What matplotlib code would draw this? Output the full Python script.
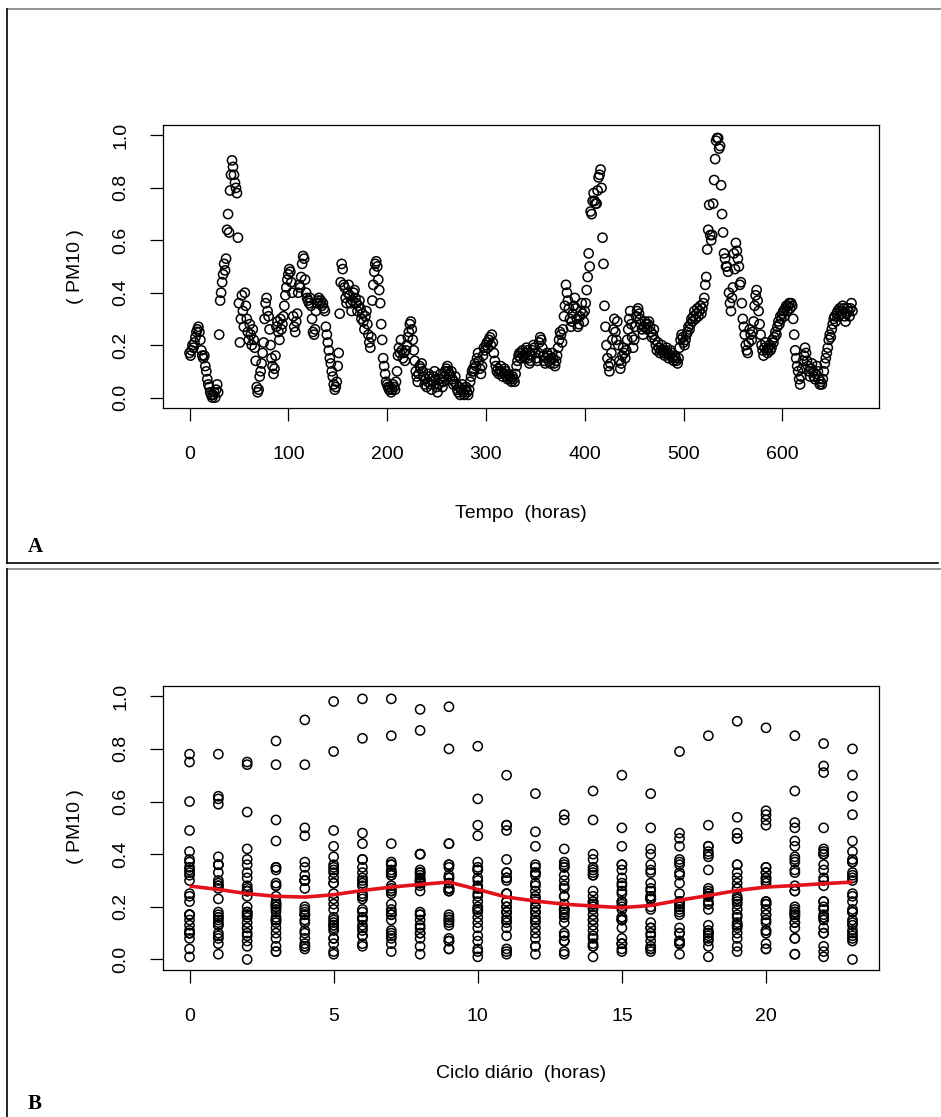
import matplotlib.pyplot as plt
import numpy as np
from matplotlib.lines import Line2D

# Hourly PM10 (normalised), one row per day, four weeks
week1 = [
    0.17, 0.16, 0.18, 0.20, 0.19, 0.21, 0.23, 0.25, 0.26, 0.27, 0.25, 0.22, 0.18, 0.16, 0.15, 0.16, 0.12, 0.10, 0.07, 0.05, 0.04, 0.02, 0.01, 0.00,
    0.01, 0.02, 0.00, 0.03, 0.05, 0.02, 0.24, 0.37, 0.40, 0.44, 0.47, 0.51, 0.485, 0.53, 0.64, 0.70, 0.63, 0.79, 0.85, 0.905, 0.88, 0.85, 0.82, 0.80,
    0.78, 0.61, 0.36, 0.21, 0.30, 0.39, 0.33, 0.27, 0.40, 0.35, 0.30, 0.25, 0.22, 0.28, 0.24, 0.20, 0.26, 0.22, 0.19, 0.14, 0.04, 0.02, 0.03, 0.08,
    0.10, 0.13, 0.17, 0.21, 0.30, 0.36, 0.38, 0.33, 0.31, 0.26, 0.20, 0.15, 0.12, 0.09, 0.11, 0.16, 0.27, 0.29, 0.25, 0.22, 0.30, 0.26, 0.28, 0.31,
    0.35, 0.39, 0.42, 0.45, 0.47, 0.49, 0.48, 0.44, 0.40, 0.31, 0.27, 0.25, 0.29, 0.32, 0.40, 0.43, 0.42, 0.46, 0.51, 0.54, 0.53, 0.45, 0.40, 0.38,
    0.37, 0.36, 0.38, 0.35, 0.30, 0.25, 0.24, 0.26, 0.33, 0.36, 0.37, 0.38, 0.36, 0.37, 0.35, 0.36, 0.34, 0.33, 0.27, 0.24, 0.21, 0.18, 0.15, 0.13,
    0.10, 0.08, 0.05, 0.03, 0.04, 0.06, 0.12, 0.17, 0.32, 0.44, 0.51, 0.49, 0.43, 0.42, 0.38, 0.36, 0.40, 0.43, 0.39, 0.36, 0.33, 0.37, 0.40, 0.41,
]
week2 = [
    0.38, 0.36, 0.33, 0.35, 0.37, 0.34, 0.30, 0.32, 0.29, 0.26, 0.31, 0.33, 0.28, 0.24, 0.21, 0.19, 0.23, 0.37, 0.43, 0.48, 0.51, 0.52, 0.50, 0.45,
    0.41, 0.36, 0.28, 0.22, 0.15, 0.12, 0.09, 0.06, 0.05, 0.04, 0.03, 0.04, 0.02, 0.03, 0.05, 0.04, 0.03, 0.06, 0.10, 0.16, 0.19, 0.17, 0.22, 0.18,
    0.15, 0.17, 0.14, 0.18, 0.20, 0.23, 0.25, 0.28, 0.29, 0.26, 0.22, 0.18, 0.14, 0.10, 0.08, 0.06, 0.09, 0.12, 0.11, 0.13, 0.10, 0.08, 0.05, 0.07,
    0.04, 0.06, 0.09, 0.08, 0.05, 0.03, 0.06, 0.08, 0.10, 0.07, 0.04, 0.02, 0.05, 0.07, 0.09, 0.06, 0.04, 0.06, 0.08, 0.10, 0.11, 0.12, 0.10, 0.09,
    0.08, 0.10, 0.07, 0.05, 0.06, 0.08, 0.05, 0.03, 0.02, 0.04, 0.01, 0.03, 0.05, 0.02, 0.01, 0.03, 0.04, 0.02, 0.01, 0.03, 0.06, 0.08, 0.10, 0.11,
    0.10, 0.13, 0.12, 0.15, 0.17, 0.14, 0.11, 0.09, 0.12, 0.16, 0.19, 0.18, 0.20, 0.21, 0.19, 0.22, 0.23, 0.20, 0.24, 0.21, 0.17, 0.14, 0.12, 0.10,
    0.11, 0.09, 0.10, 0.12, 0.10, 0.08, 0.09, 0.11, 0.10, 0.08, 0.07, 0.09, 0.08, 0.07, 0.06, 0.08, 0.07, 0.06, 0.09, 0.12, 0.14, 0.16, 0.17, 0.15,
]
week3 = [
    0.17, 0.18, 0.16, 0.15, 0.17, 0.19, 0.18, 0.15, 0.13, 0.14, 0.16, 0.18, 0.20, 0.19, 0.17, 0.15, 0.14, 0.17, 0.21, 0.23, 0.22, 0.19, 0.16, 0.14,
    0.13, 0.15, 0.17, 0.16, 0.14, 0.13, 0.15, 0.17, 0.15, 0.13, 0.12, 0.14, 0.16, 0.19, 0.22, 0.25, 0.24, 0.21, 0.26, 0.31, 0.35, 0.43, 0.40, 0.37,
    0.34, 0.30, 0.27, 0.29, 0.32, 0.35, 0.38, 0.34, 0.30, 0.27, 0.28, 0.31, 0.33, 0.36, 0.32, 0.29, 0.33, 0.36, 0.41, 0.46, 0.55, 0.50, 0.71, 0.70,
    0.75, 0.78, 0.75, 0.74, 0.74, 0.79, 0.84, 0.85, 0.87, 0.80, 0.61, 0.51, 0.35, 0.27, 0.20, 0.15, 0.12, 0.10, 0.13, 0.17, 0.22, 0.26, 0.30, 0.25,
    0.22, 0.29, 0.20, 0.14, 0.11, 0.13, 0.16, 0.19, 0.17, 0.15, 0.18, 0.22, 0.26, 0.30, 0.33, 0.28, 0.23, 0.19, 0.22, 0.27, 0.31, 0.33, 0.34, 0.32,
    0.30, 0.28, 0.26, 0.24, 0.27, 0.29, 0.28, 0.26, 0.28, 0.29, 0.27, 0.25, 0.23, 0.24, 0.26, 0.22, 0.20, 0.18, 0.21, 0.19, 0.17, 0.18, 0.20, 0.18,
    0.17, 0.16, 0.18, 0.19, 0.17, 0.15, 0.16, 0.18, 0.17, 0.15, 0.14, 0.16, 0.15, 0.14, 0.13, 0.15, 0.19, 0.22, 0.24, 0.23, 0.21, 0.20, 0.22, 0.24,
]
week4 = [
    0.25, 0.27, 0.26, 0.28, 0.30, 0.29, 0.31, 0.33, 0.30, 0.32, 0.34, 0.31, 0.33, 0.35, 0.32, 0.34, 0.36, 0.38, 0.43, 0.46, 0.565, 0.64, 0.735, 0.62,
    0.60, 0.62, 0.74, 0.83, 0.91, 0.98, 0.99, 0.99, 0.95, 0.96, 0.81, 0.70, 0.63, 0.55, 0.53, 0.50, 0.50, 0.48, 0.40, 0.36, 0.33, 0.38, 0.42, 0.55,
    0.49, 0.59, 0.56, 0.53, 0.50, 0.43, 0.44, 0.36, 0.30, 0.27, 0.24, 0.20, 0.18, 0.17, 0.21, 0.26, 0.24, 0.22, 0.25, 0.29, 0.35, 0.39, 0.41, 0.37,
    0.33, 0.28, 0.24, 0.20, 0.18, 0.16, 0.19, 0.21, 0.18, 0.17, 0.19, 0.20, 0.18, 0.19, 0.22, 0.21, 0.23, 0.25, 0.24, 0.27, 0.29, 0.28, 0.31, 0.30,
    0.32, 0.33, 0.31, 0.34, 0.35, 0.33, 0.35, 0.36, 0.34, 0.36, 0.35, 0.30, 0.24, 0.18, 0.15, 0.12, 0.10, 0.07, 0.05, 0.08, 0.11, 0.14, 0.16, 0.19,
    0.17, 0.14, 0.12, 0.10, 0.08, 0.11, 0.13, 0.10, 0.08, 0.07, 0.09, 0.12, 0.10, 0.07, 0.05, 0.06, 0.05, 0.07, 0.10, 0.13, 0.15, 0.17, 0.19, 0.22,
    0.24, 0.23, 0.26, 0.28, 0.30, 0.31, 0.29, 0.32, 0.33, 0.31, 0.34, 0.33, 0.32, 0.35, 0.34, 0.31, 0.29, 0.32, 0.34, 0.33, 0.31, 0.34, 0.36, 0.33,
]

# smooth daily cycle (red curve in panel B)
cycle_hours = list(range(24))
cycle_fit = [0.279, 0.266, 0.250, 0.240, 0.237, 0.246, 0.262, 0.275, 0.285, 0.294,
             0.266, 0.237, 0.222, 0.210, 0.203, 0.197, 0.205, 0.225, 0.243, 0.262,
             0.275, 0.281, 0.288, 0.294]

x_ticks_time = [0, 100, 200, 300, 400, 500, 600]
x_ticks_cycle = [0, 5, 10, 15, 20]
y_ticks = [0.0, 0.2, 0.4, 0.6, 0.8, 1.0]

pm10 = np.array(week1 + week2 + week3 + week4)
hours = np.arange(len(pm10))
hour_of_day = hours % 24

plt.rcParams['font.family'] = ['Liberation Sans', 'DejaVu Sans']

W, H = 941, 1117
fig = plt.figure(figsize=(W / 100, H / 100), dpi=100)


def fx(x):
    return x / W


def fy(y):
    return 1 - y / H


def r_range(lo, hi):
    d = (hi - lo) * 0.04
    return lo - d, hi + d


def style_axes(ax, xticks):
    for s in ax.spines.values():
        s.set_linewidth(0.9)
        s.set_color('black')
    ax.set_xticks(xticks)
    ax.set_yticks(y_ticks)
    ax.set_yticklabels(['%.1f' % v for v in y_ticks])
    ax.tick_params(direction='out', length=9.4, width=0.9, labelsize=14)
    ax.tick_params(axis='x', pad=18)
    ax.tick_params(axis='y', pad=15, labelrotation=90)
    for lab in ax.get_yticklabels():
        lab.set_va('center')
    ax.set_ylim(r_range(0, 1))


# panel A
axA = fig.add_axes([fx(163), fy(408), fx(716), 283 / H])
axA.scatter(hours, pm10, s=44, facecolors='none', edgecolors='black', linewidths=1.1)
axA.set_xlim(r_range(hours.min(), hours.max()))
style_axes(axA, x_ticks_time)

# panel B
axB = fig.add_axes([fx(163), fy(970), fx(716), 284.3 / H])
axB.scatter(hour_of_day, pm10, s=44, facecolors='none', edgecolors='black', linewidths=1.1)
axB.plot(cycle_hours, cycle_fit, color='#e3131b', lw=2.6, solid_capstyle='butt')
axB.set_xlim(r_range(0, 23))
style_axes(axB, x_ticks_cycle)

# axis titles
fig.text(fx(521), fy(513), 'Tempo  (horas)', ha='center', va='center', fontsize=14)
fig.text(fx(521), fy(1073), 'Ciclo diário  (horas)', ha='center', va='center', fontsize=14)
for yc in (266.5, 826.5):
    fig.text(fx(75), fy(yc), '( PM10 )', ha='center', va='center', rotation=90, fontsize=14)

# panel letters
fig.text(fx(28), fy(547), 'A', ha='left', va='center', fontsize=15,
         fontweight='bold', family='Liberation Serif')
fig.text(fx(28), fy(1104), 'B', ha='left', va='center', fontsize=15,
         fontweight='bold', family='Liberation Serif')


# panel frames
def frame_line(x0, y0, x1, y1, color='black', lw=1.2):
    fig.add_artist(Line2D([fx(x0), fx(x1)], [fy(y0), fy(y1)], transform=fig.transFigure,
                          color=color, lw=lw))


frame_line(7, 9, 941, 9, color='#808080')
frame_line(7, 9, 7, 563)
frame_line(7, 563, 938, 563)
frame_line(7, 569, 941, 569, color='#808080')
frame_line(7, 569, 7, 1117)

fig.savefig('out.png', dpi=100)
